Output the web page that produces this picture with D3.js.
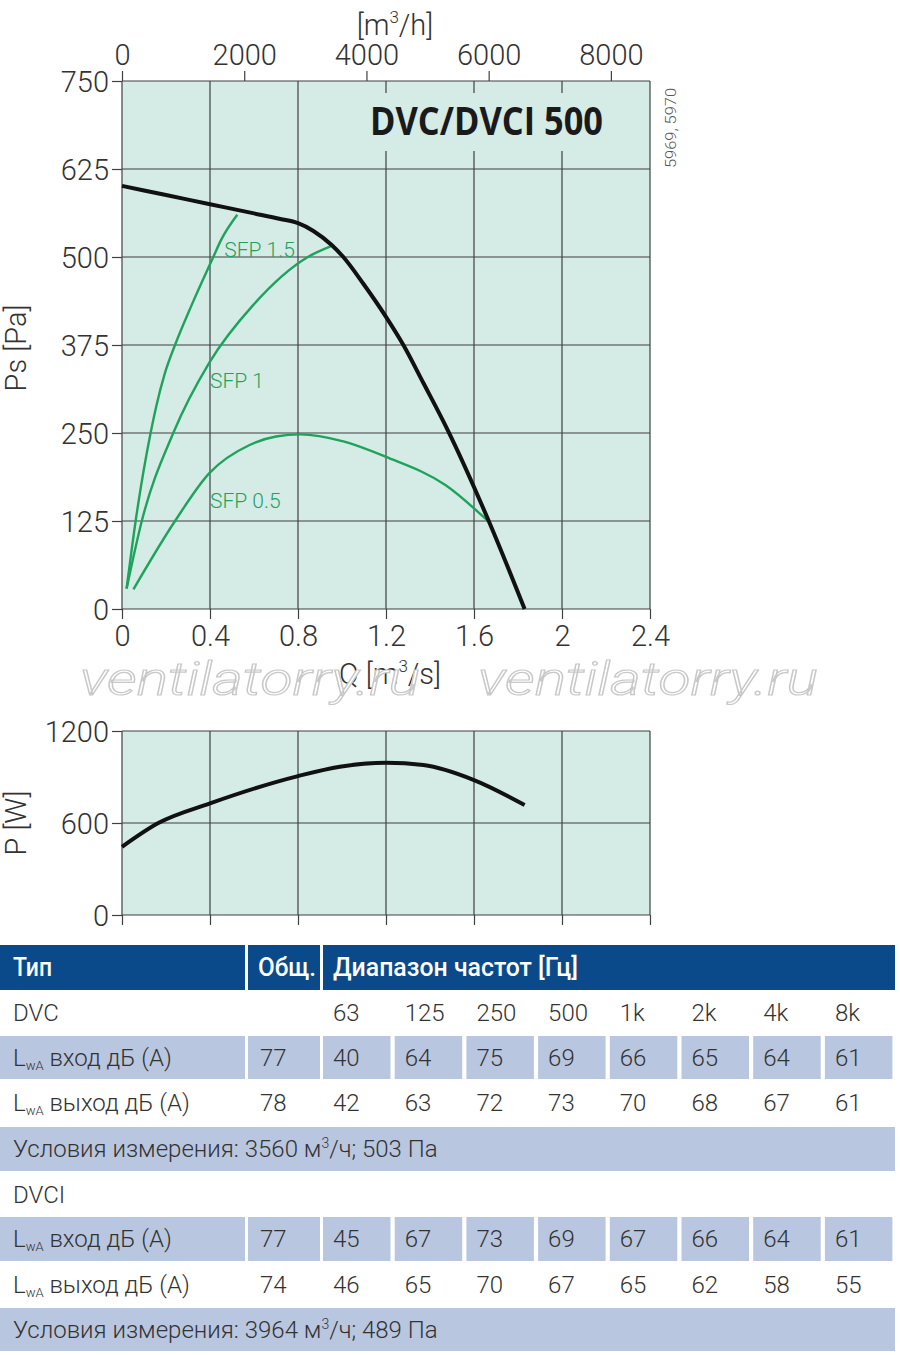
<!DOCTYPE html>
<html>
<head>
<meta charset="utf-8">
<script src="https://cdn.jsdelivr.net/npm/d3@7"></script>
<style>
  body { margin: 0; background: #ffffff; }
  text { font-family: Roboto, "Open Sans", sans-serif; font-weight: 300; }
</style>
</head>
<body>
<script>
// axis ticks
const qTicks = [0, 0.4, 0.8, 1.2, 1.6, 2, 2.4];
const psTicks = [0, 125, 250, 375, 500, 625, 750];
const flowTicks = [0, 2000, 4000, 6000, 8000];
const pTicks = [0, 600, 1200];

// fan curve Q [m3/s] -> Ps [Pa]
const fanCurve = [[0, 601], [0.2, 588], [0.4, 575], [0.6, 562], [0.72, 554], [0.8, 548],
    [0.87, 537], [0.953, 517], [1.006, 500], [1.097, 462], [1.2, 415], [1.279, 375],
    [1.37, 321], [1.476, 257], [1.667, 125], [1.83, 0]];

// SFP lines
const sfp15 = [[0.021, 29], [0.062, 125], [0.13, 250], [0.155, 287], [0.195, 335],
    [0.241, 375], [0.317, 432], [0.415, 500], [0.45, 524], [0.524, 560]];
const sfp1 = [[0.021, 29], [0.09, 125], [0.233, 250], [0.397, 350], [0.597, 432],
    [0.845, 500], [0.948, 515]];
const sfp05 = [[0.052, 28], [0.241, 125], [0.397, 193], [0.58, 233], [0.7, 245],
    [0.81, 248], [1.006, 238], [1.2, 216], [1.47, 176], [1.667, 124]];
const sfpLabels = [["SFP 1.5", 0.465, 257], ["SFP 1", 0.4, 388], ["SFP 0.5", 0.4, 508]];

// power curve Q -> P [W]
const powerCurve = [[0, 445], [0.165, 600], [0.4, 728], [0.8, 906], [0.99, 967], [1.2, 993],
    [1.37, 978], [1.6, 880], [1.83, 717]];

// table
const freqBands = ["63", "125", "250", "500", "1k", "2k", "4k", "8k"];
const dvcIn = [77, 40, 64, 75, 69, 66, 65, 64, 61];
const dvcOut = [78, 42, 63, 72, 73, 70, 68, 67, 61];
const dvciIn = [77, 45, 67, 73, 69, 67, 66, 64, 61];
const dvciOut = [74, 46, 65, 70, 67, 65, 62, 58, 55];
const dvcCond = ["3560", "503"];
const dvciCond = ["3964", "489"];

(function () {
    const W = 900, H = 1355;
    const svg = d3.select("body").append("svg")
        .attr("width", W)
        .attr("height", H);

    const bg = "#d5ebe6", gridCol = "#404040", txtCol = "#333333";
    const green = "#1ea25c";

    // scales
    const x = d3.scaleLinear().domain([0, 2.4]).range([122, 650]);
    const xTop = d3.scaleLinear().domain([0, 2.4 * 3600]).range([122, 650]);
    const y = d3.scaleLinear().domain([0, 750]).range([609, 81]);
    const yP = d3.scaleLinear().domain([0, 1200]).range([915, 731]);

    // ---------- upper chart ----------
    const top = svg.append("g");
    top.append("rect")
        .attr("x", x(0)).attr("y", y(750))
        .attr("width", x(2.4) - x(0)).attr("height", y(0) - y(750))
        .attr("fill", bg);

    top.selectAll(".vgrid").data(qTicks).join("line")
        .attr("x1", d => x(d)).attr("x2", d => x(d))
        .attr("y1", y(750)).attr("y2", y(0))
        .attr("stroke", gridCol).attr("stroke-width", 1.2);
    top.selectAll(".hgrid").data(psTicks).join("line")
        .attr("x1", x(0)).attr("x2", x(2.4))
        .attr("y1", d => y(d)).attr("y2", d => y(d))
        .attr("stroke", gridCol).attr("stroke-width", 1.2);

    // bottom ticks Q
    const qAxis = top.append("g").attr("transform", `translate(0,${y(0)})`)
        .call(d3.axisBottom(x).tickValues(qTicks).tickSize(10).tickFormat(d3.format("~g")));
    // top axis m3/h
    const fAxis = top.append("g").attr("transform", `translate(0,${y(750)})`)
        .call(d3.axisTop(xTop).tickValues(flowTicks).tickSize(10).tickFormat(d3.format("d")));
    // left axis Ps
    const psAxis = top.append("g").attr("transform", `translate(${x(0)},0)`)
        .call(d3.axisLeft(y).tickValues(psTicks).tickSize(10));

    [qAxis, fAxis, psAxis].forEach(a => {
        a.select(".domain").remove();
        a.selectAll("line").attr("stroke", gridCol).attr("stroke-width", 1.2);
        a.selectAll("text").attr("fill", txtCol).style("font-size", "29px");
    });
    qAxis.selectAll("text").attr("dy", "0.82em");
    fAxis.selectAll("text").attr("dy", "-0.12em");
    psAxis.selectAll("text").attr("dy", "0.36em").attr("x", -13);

    // title box hides the grid behind it
    top.append("rect")
        .attr("x", 362).attr("y", 93).attr("width", 250).attr("height", 58)
        .attr("fill", bg);
    top.append("text")
        .attr("x", 370).attr("y", 135)
        .attr("textLength", 233).attr("lengthAdjust", "spacingAndGlyphs")
        .style("font-size", "39px").style("font-weight", "bold")
        .style("font-family", "'Open Sans', sans-serif")
        .attr("fill", "#1a1a1a")
        .text("DVC/DVCI 500");

    top.append("text")
        .attr("transform", "translate(676,128) rotate(-90)")
        .attr("text-anchor", "middle")
        .attr("textLength", 80).attr("lengthAdjust", "spacingAndGlyphs")
        .style("font-size", "15px")
        .attr("fill", "#555")
        .text("5969, 5970");

    const line = d3.line()
        .x(d => x(d[0])).y(d => y(d[1]))
        .curve(d3.curveMonotoneX);

    [sfp15, sfp1, sfp05].forEach(s => {
        top.append("path")
            .attr("d", line(s))
            .attr("fill", "none")
            .attr("stroke", green)
            .attr("stroke-width", 2.4);
    });
    top.append("path")
        .attr("d", line(fanCurve))
        .attr("fill", "none")
        .attr("stroke", "#111")
        .attr("stroke-width", 4);

    top.selectAll(".sfpl").data(sfpLabels).join("text")
        .attr("x", d => x(d[1])).attr("y", d => d[2])
        .attr("fill", green)
        .style("font-size", "21px")
        .text(d => d[0]);

    // axis titles
    const t1 = top.append("text")
        .attr("x", 395).attr("y", 35).attr("text-anchor", "middle")
        .attr("fill", txtCol).style("font-size", "29px");
    t1.append("tspan").text("[m");
    t1.append("tspan").attr("dy", -12).style("font-size", "17px").text("3");
    t1.append("tspan").attr("dy", 12).text("/h]");

    const t2 = top.append("text")
        .attr("x", 390).attr("y", 684).attr("text-anchor", "middle")
        .attr("fill", txtCol).style("font-size", "29px");
    t2.append("tspan").text("Q [m");
    t2.append("tspan").attr("dy", -12).style("font-size", "17px").text("3");
    t2.append("tspan").attr("dy", 12).text("/s]");

    top.append("text")
        .attr("transform", "translate(26,348) rotate(-90)")
        .attr("text-anchor", "middle")
        .attr("fill", txtCol).style("font-size", "29px")
        .text("Ps [Pa]");

    // watermark
    [80, 478].forEach(px => {
        svg.append("text")
            .attr("x", px).attr("y", 695)
            .attr("textLength", 340).attr("lengthAdjust", "spacingAndGlyphs")
            .style("font-size", "46px").style("font-style", "italic")
            .attr("fill", "#ffffff").attr("stroke", "#c8c8c8").attr("stroke-width", 1.2)
            .text("ventilatorry.ru");
    });

    // ---------- power chart ----------
    const bot = svg.append("g");
    bot.append("rect")
        .attr("x", x(0)).attr("y", yP(1200))
        .attr("width", x(2.4) - x(0)).attr("height", yP(0) - yP(1200))
        .attr("fill", bg);
    bot.selectAll(".vgrid").data(qTicks).join("line")
        .attr("x1", d => x(d)).attr("x2", d => x(d))
        .attr("y1", yP(1200)).attr("y2", yP(0))
        .attr("stroke", gridCol).attr("stroke-width", 1.2);
    bot.selectAll(".hgrid").data(pTicks).join("line")
        .attr("x1", x(0)).attr("x2", x(2.4))
        .attr("y1", d => yP(d)).attr("y2", d => yP(d))
        .attr("stroke", gridCol).attr("stroke-width", 1.2);

    const qAxis2 = bot.append("g").attr("transform", `translate(0,${yP(0)})`)
        .call(d3.axisBottom(x).tickValues(qTicks).tickSize(10).tickFormat(""));
    const pAxis = bot.append("g").attr("transform", `translate(${x(0)},0)`)
        .call(d3.axisLeft(yP).tickValues(pTicks).tickSize(10).tickFormat(d3.format("d")));
    [qAxis2, pAxis].forEach(a => {
        a.select(".domain").remove();
        a.selectAll("line").attr("stroke", gridCol).attr("stroke-width", 1.2);
        a.selectAll("text").attr("fill", txtCol).style("font-size", "29px");
    });
    pAxis.selectAll("text").attr("dy", "0.36em").attr("x", -13);

    const pLine = d3.line()
        .x(d => x(d[0])).y(d => yP(d[1]))
        .curve(d3.curveMonotoneX);
    bot.append("path")
        .attr("d", pLine(powerCurve))
        .attr("fill", "none")
        .attr("stroke", "#111")
        .attr("stroke-width", 4);

    bot.append("text")
        .attr("transform", "translate(26,823) rotate(-90)")
        .attr("text-anchor", "middle")
        .attr("fill", txtCol).style("font-size", "29px")
        .text("P [W]");

    // ---------- table ----------
    const tbl = svg.append("g");
    const blue = "#0b4a8a", light = "#b9c6df";
    const rowTop = [945, 990, 1035, 1080, 1126, 1172, 1216, 1262, 1307, 1352];
    const colX = d3.range(8).map(i => 323 + i * 71.7);
    const bandW = 67.5;
    const fs = "24px";

    // header
    tbl.append("rect").attr("x", 0).attr("y", rowTop[0]).attr("width", 245).attr("height", 45).attr("fill", blue);
    tbl.append("rect").attr("x", 248).attr("y", rowTop[0]).attr("width", 72).attr("height", 45).attr("fill", blue);
    tbl.append("rect").attr("x", 323).attr("y", rowTop[0]).attr("width", 572).attr("height", 45).attr("fill", blue);
    [["Тип", 13, 39], ["Общ.", 258, 58], ["Диапазон частот [Гц]", 333, 245]].forEach(h => {
        tbl.append("text").attr("x", h[1]).attr("y", rowTop[0] + 31)
            .attr("textLength", h[2]).attr("lengthAdjust", "spacingAndGlyphs")
            .attr("fill", "#ffffff").style("font-size", "25px").style("font-weight", "500")
            .text(h[0]);
    });

    function plainRow(r, label, vals, shaded) {
        const y0 = rowTop[r], h = rowTop[r + 1] - rowTop[r] - 2;
        if (shaded) {
            tbl.append("rect").attr("x", 0).attr("y", y0 + 1).attr("width", 245).attr("height", h).attr("fill", light);
            tbl.append("rect").attr("x", 248).attr("y", y0 + 1).attr("width", 72).attr("height", h).attr("fill", light);
            colX.forEach(cx => {
                tbl.append("rect").attr("x", cx).attr("y", y0 + 1).attr("width", bandW).attr("height", h).attr("fill", light);
            });
        }
        const lt = tbl.append("text").attr("x", 13).attr("y", y0 + 31)
            .attr("fill", txtCol).style("font-size", fs);
        if (Array.isArray(label)) {
            lt.append("tspan").text("L");
            lt.append("tspan").attr("dy", 4).style("font-size", "13px").text("wA");
            lt.append("tspan").attr("dy", -4).text(" " + label[0]);
        } else {
            lt.text(label);
        }
        vals.forEach((v, i) => {
            tbl.append("text")
                .attr("x", i === 0 ? 260 : colX[i - 1] + 10)
                .attr("y", y0 + 31)
                .attr("fill", txtCol).style("font-size", fs)
                .text(v);
        });
    }

    function condRow(r, cond) {
        const y0 = rowTop[r], h = rowTop[r + 1] - rowTop[r] - 2;
        tbl.append("rect").attr("x", 0).attr("y", y0 + 1).attr("width", 895).attr("height", h).attr("fill", light);
        const t = tbl.append("text").attr("x", 13).attr("y", y0 + 31)
            .attr("fill", txtCol).style("font-size", fs);
        t.append("tspan").text(`Условия измерения: ${cond[0]} м`);
        t.append("tspan").attr("dy", -9).style("font-size", "14px").text("3");
        t.append("tspan").attr("dy", 9).text(`/ч; ${cond[1]} Па`);
    }

    plainRow(1, "DVC", [""].concat(freqBands), false);
    plainRow(2, ["вход дБ (A)"], dvcIn, true);
    plainRow(3, ["выход дБ (A)"], dvcOut, false);
    condRow(4, dvcCond);
    plainRow(5, "DVCI", [], false);
    plainRow(6, ["вход дБ (A)"], dvciIn, true);
    plainRow(7, ["выход дБ (A)"], dvciOut, false);
    condRow(8, dvciCond);
})();
</script>
</body>
</html>
